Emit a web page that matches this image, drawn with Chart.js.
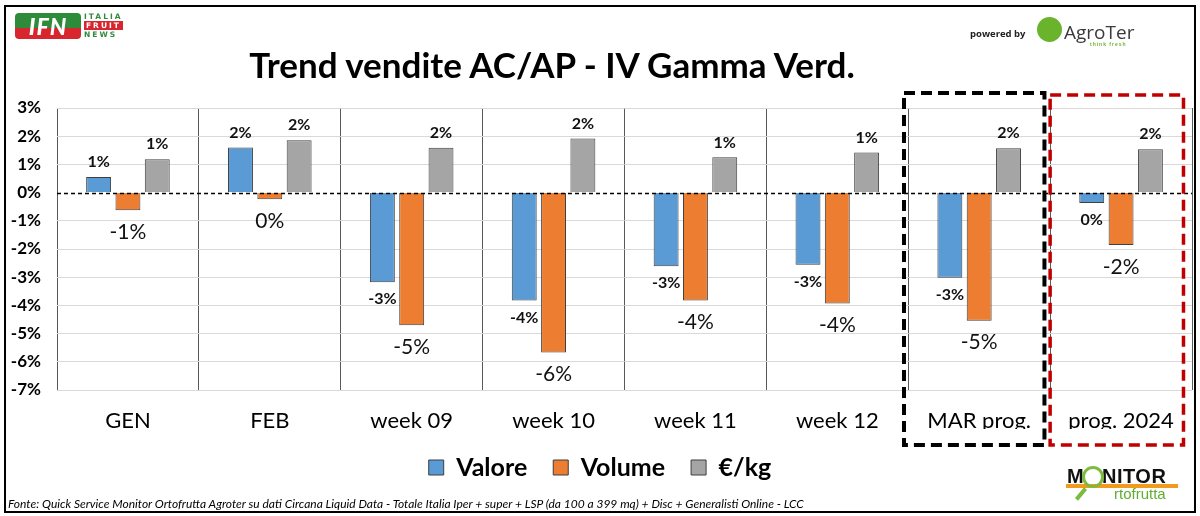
<!doctype html>
<html>

<head>
	<title>Trend vendite AC/AP - IV Gamma Verd.</title>
	<script src="https://cdn.jsdelivr.net/npm/chart.js@4.4.1/dist/chart.umd.min.js"></script>
	<style>
		body { margin: 0; background: #fff; font-family: Lato, sans-serif; }
		#wrap { position: relative; width: 1200px; height: 516px; }
		#frame { position: absolute; left: 4px; top: 5px; width: 1188px; height: 504px; border: 2px solid #000; pointer-events: none; }
		#title { position: absolute; left: 0; width: 1104px; top: 43px; text-align: center; font-weight: bold; font-size: 35px; color: #000; }
		#fonte { position: absolute; left: 8px; top: 496px; font-style: italic; font-size: 12px; color: #000; white-space: nowrap; }
		#ifn { position: absolute; left: 15px; top: 13px; width: 66px; height: 26px; border-radius: 4px;
			background: linear-gradient(#2e8b3a 0 58%, #d7262e 58% 100%); color: #fff; font: italic 900 23px Lato, sans-serif;
			text-align: center; line-height: 26px; letter-spacing: 1px; }
		#ifn2 { position: absolute; left: 84px; top: 12px; font: bold 7.5px "DejaVu Sans", sans-serif; letter-spacing: 2px; line-height: 9px; }
		#ifn2 .r { background: #d7262e; color: #fff; padding: 0 2px; }
		#powered { position: absolute; left: 970px; top: 27px; font: bold 9.5px "Open Sans", sans-serif; color: #222; }
		#agro { position: absolute; left: 1037px; top: 17px; width: 25px; height: 25px; border-radius: 50%; background: #6ab42d; }
		#agroT { position: absolute; left: 1064px; top: 19px; font: 19px "Open Sans", sans-serif; color: #3a3a3a; }
		#agroS { position: absolute; left: 1090px; top: 41px; font: bold 5px sans-serif; color: #6ab42d; letter-spacing: 1px; }
		#monM { position: absolute; left: 1067px; top: 465px; font: bold 20px "Liberation Sans Narrow", "Liberation Sans", sans-serif; color: #111; }
		#monN { position: absolute; left: 1102px; top: 465px; font: bold 20px "Liberation Sans Narrow", "Liberation Sans", sans-serif; color: #111; letter-spacing: 0.5px; }
		#monLine { position: absolute; left: 1066px; top: 484px; width: 112px; height: 4px; background: #f29a1f; }
		#monO { position: absolute; left: 1082px; top: 466px; width: 22px; height: 22px; border: 3px solid #7dbb3c; border-radius: 50%; box-sizing: border-box; }
		#monH { position: absolute; left: 1074px; top: 492px; width: 14px; height: 4px; background: #7dbb3c; transform: rotate(-50deg); }
		#orto { position: absolute; left: 1114px; top: 485px; font: 15px "Liberation Sans Narrow", "Liberation Sans", sans-serif; color: #5fae2e; }
	</style>
</head>

<body>
	<div id="wrap">
		<canvas id="canvas"></canvas>
		<div id="frame"></div>
		<div id="title">Trend vendite AC/AP - IV Gamma Verd.</div>
		<div id="ifn">IFN</div>
		<div id="ifn2"><span style="color:#2e8b3a">ITALIA</span><br><span class="r">FRUIT</span><br><span style="color:#2e8b3a">NEWS</span></div>
		<div id="powered">powered by</div>
		<div id="agro"></div>
		<div id="agroT">AgroTer</div>
		<div id="agroS">think fresh</div>
		<div id="monM">M</div>
		<div id="monN">NITOR</div>
		<div id="monLine"></div>
		<div id="monO"></div>
		<div id="monH"></div>
		<div id="orto">rtofrutta</div>
		<div id="fonte">Fonte: Quick Service Monitor Ortofrutta Agroter su dati Circana Liquid Data - Totale Italia Iper + super + LSP (da 100 a 399 mq) + Disc + Generalisti Online - LCC</div>
	</div>
	<script>
		const categories = ['GEN', 'FEB', 'week 09', 'week 10', 'week 11', 'week 12', 'MAR prog.', 'prog. 2024'];
		const valore = [0.55, 1.6, -3.18, -3.83, -2.61, -2.56, -3.02, -0.37];
		const volume = [-0.63, -0.24, -4.7, -5.67, -3.83, -3.93, -4.54, -1.86];
		const euroKg = [1.18, 1.86, 1.59, 1.92, 1.25, 1.42, 1.57, 1.54];
		const yTicks = [3, 2, 1, 0, -1, -2, -3, -4, -5, -6, -7];

		const FONT = 'Lato, sans-serif';

		// value labels over / under every bar
		const barLabels = {
			id: 'barLabels',
			afterDatasetsDraw(chart) {
				const ctx = chart.ctx;
				ctx.save();
				ctx.textAlign = 'center';
				ctx.textBaseline = 'middle';
				ctx.fillStyle = '#111';
				chart.data.datasets.forEach((ds, i) => {
					const meta = chart.getDatasetMeta(i);
					const big = ds.label === 'Volume';
					ctx.font = big ? '21px ' + FONT : 'bold 16px ' + FONT;
					meta.data.forEach((el, j) => {
						const v = ds.data[j];
						const txt = Math.round(v) + '%';
						const y = v >= 0 ? el.y - 15 : el.y + (big ? 22 : 17);
						ctx.fillText(txt.replace('-0%', '0%'), el.x, y);
					});
				});
				ctx.restore();
			}
		};

		// dashed zero line + dashed boxes round the two last groups
		const extras = {
			id: 'extras',
			afterDraw(chart) {
				const ctx = chart.ctx;
				const x = chart.scales.x;
				const y = chart.scales.y;
				const area = chart.chartArea;
				const cw = x.width / categories.length;
				ctx.save();
				ctx.strokeStyle = '#000';
				ctx.lineWidth = 1.5;
				ctx.setLineDash([4, 3]);
				const y0 = Math.round(y.getPixelForValue(0)) + 0.5;
				ctx.beginPath();
				ctx.moveTo(area.left, y0);
				ctx.lineTo(area.right, y0);
				ctx.stroke();

				const boxes = [
					{ cat: 'MAR prog.', l: -0.53, r: 0.46, top: 15, color: '#000', w: 4 },
					{ cat: 'prog. 2024', l: -0.50, r: 0.44, top: 13, color: '#c00000', w: 3.5 }
				];
				boxes.forEach((b) => {
					const c = x.getPixelForValue(categories.indexOf(b.cat));
					ctx.strokeStyle = b.color;
					ctx.lineWidth = b.w;
					ctx.setLineDash([11, 6]);
					ctx.strokeRect(c + b.l * cw, area.top - b.top, (b.r - b.l) * cw, area.bottom - area.top + b.top + 55);
				});
				ctx.restore();
			}
		};

		const config = {
			type: 'bar',
			data: {
				labels: categories,
				datasets: [{
					label: 'Valore',
					data: valore,
					backgroundColor: '#5b9bd5',
					borderColor: '#3f3f3f',
					borderWidth: 1
				}, {
					label: 'Volume',
					data: volume,
					backgroundColor: '#ed7d31',
					borderColor: '#3f3f3f',
					borderWidth: 1
				}, {
					label: '€/kg',
					data: euroKg,
					backgroundColor: '#a5a5a5',
					borderColor: '#3f3f3f',
					borderWidth: 1
				}]
			},
			options: {
				responsive: true,
				maintainAspectRatio: false,
				animation: false,
				datasets: {
					bar: { barPercentage: 0.85, categoryPercentage: 0.62 }
				},
				layout: { padding: { left: 8, right: 8, top: 108, bottom: 26 } },
				scales: {
					x: {
						grid: { offset: true, color: '#595959', drawTicks: false },
						border: { display: false },
						ticks: { color: '#000', font: { family: FONT, size: 22 }, padding: 18 },
						afterFit(scale) { scale.height = 39; }
					},
					y: {
						min: -7,
						max: 3,
						afterBuildTicks(scale) { scale.ticks = yTicks.map((v) => ({ value: v })); },
						grid: {
							color: (c) => (c.tick && c.tick.value === 0 ? 'rgba(0,0,0,0)' : '#d9d9d9'),
							drawTicks: false
						},
						border: { display: false },
						ticks: {
							color: '#000',
							font: { family: FONT, size: 17, weight: 'bold' },
							padding: 16,
							callback: (v) => v + '%'
						},
						afterFit(scale) { scale.width = 49; }
					}
				},
				plugins: {
					title: { display: false },
					tooltip: { enabled: false },
					legend: {
						position: 'bottom',
						labels: {
							color: '#000',
							font: { family: FONT, size: 25, weight: 'bold' },
							boxWidth: 15,
							boxHeight: 15,
							padding: 26
						}
					}
				}
			},
			plugins: [barLabels, extras]
		};

		window.onload = function() {
			const ctx = document.getElementById('canvas').getContext('2d');
			window.myBar = new Chart(ctx, config);
		};
	</script>
</body>

</html>
